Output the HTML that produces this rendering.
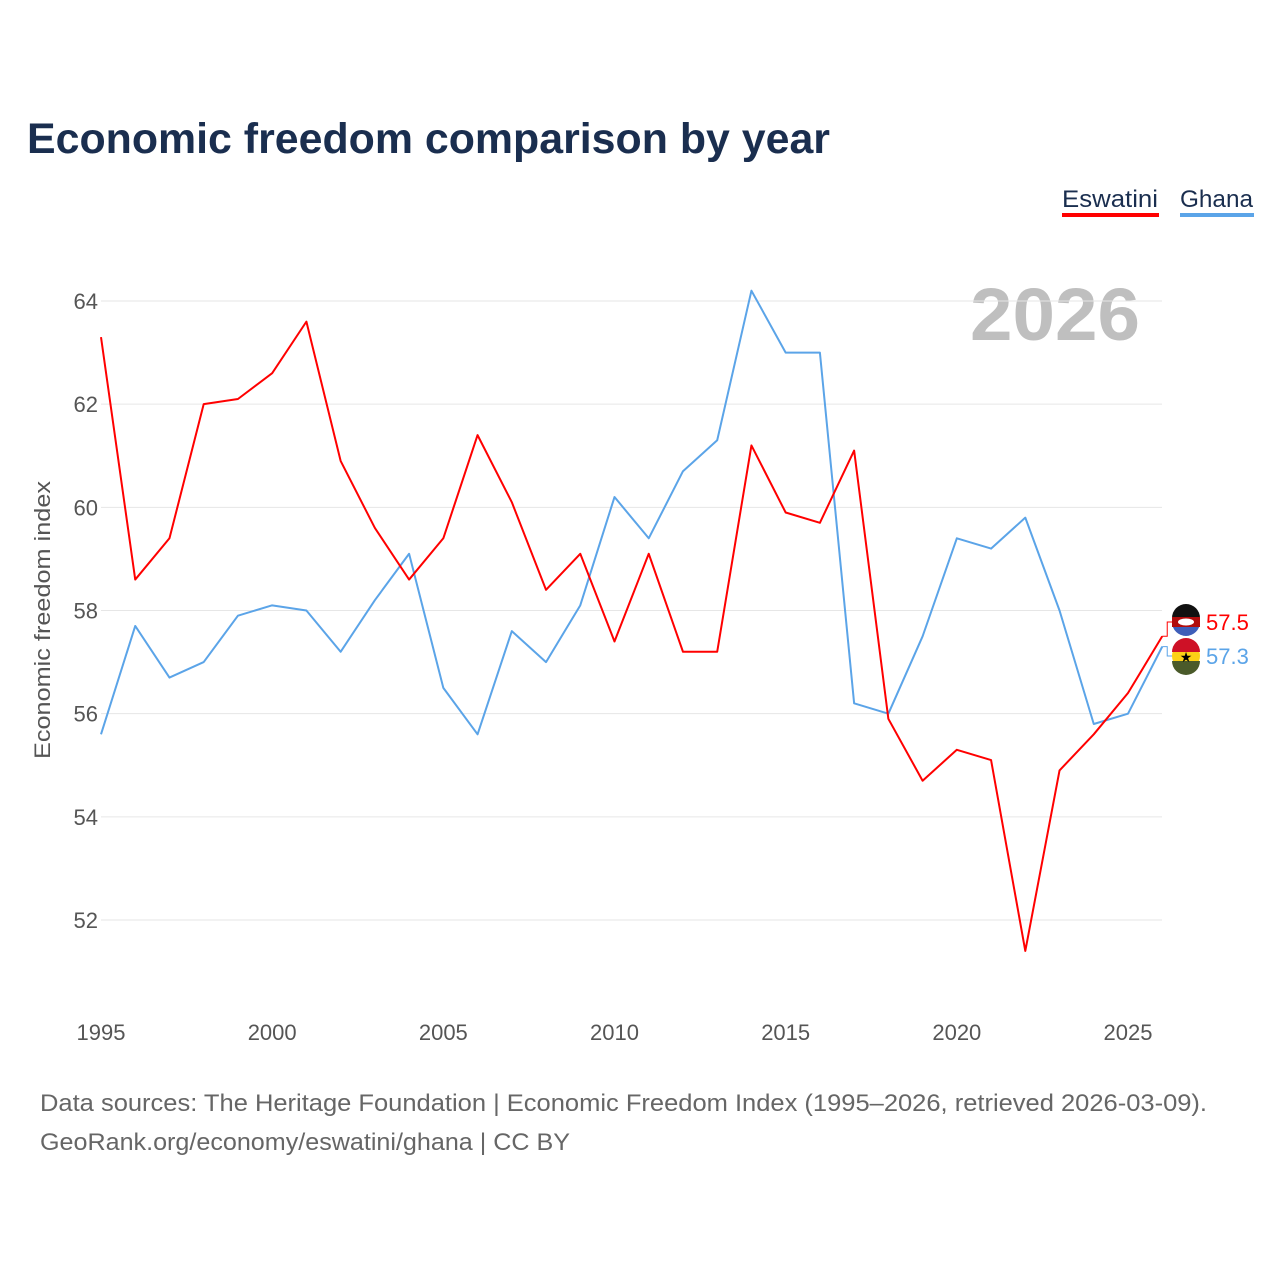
<!DOCTYPE html>
<html><head><meta charset="utf-8"><style>
body{margin:0;background:#fff;font-family:"Liberation Sans",sans-serif;}
svg text{font-family:"Liberation Sans",sans-serif;}
</style></head><body>
<svg width="1280" height="1280" viewBox="0 0 1280 1280">
<rect width="1280" height="1280" fill="#fff"/>
<text x="27" y="153" font-size="43" font-weight="bold" fill="#1a2e4f" textLength="803" lengthAdjust="spacingAndGlyphs">Economic freedom comparison by year</text>
<g>
<text x="1062" y="207" font-size="24" fill="#1a2e4f" textLength="96" lengthAdjust="spacingAndGlyphs">Eswatini</text>
<rect x="1062" y="213" width="97" height="4" fill="#ff0000"/>
<text x="1180" y="207" font-size="24" fill="#1a2e4f" textLength="73" lengthAdjust="spacingAndGlyphs">Ghana</text>
<rect x="1180" y="213" width="74" height="4" fill="#5ba4e8"/>
</g>
<text x="1140" y="340" font-size="74" font-weight="bold" fill="#bfbfbf" text-anchor="end" textLength="170" lengthAdjust="spacingAndGlyphs">2026</text>
<g id="grid"></g><g id="xt"></g>
<text transform="translate(50,620) rotate(-90)" font-size="22" fill="#555" text-anchor="middle" textLength="278" lengthAdjust="spacingAndGlyphs">Economic freedom index</text>
<g id="lines"></g>
<text x="40" y="1111" font-size="24" fill="#666" textLength="1167" lengthAdjust="spacingAndGlyphs">Data sources: The Heritage Foundation | Economic Freedom Index (1995–2026, retrieved 2026-03-09).</text>
<text x="40" y="1150" font-size="24" fill="#666" textLength="530" lengthAdjust="spacingAndGlyphs">GeoRank.org/economy/eswatini/ghana | CC BY</text>
</svg>
<script>
const years=[1995,1996,1997,1998,1999,2000,2001,2002,2003,2004,2005,2006,2007,2008,2009,2010,2011,2012,2013,2014,2015,2016,2017,2018,2019,2020,2021,2022,2023,2024,2025,2026];
const eswatini=[63.3,58.6,59.4,62.0,62.1,62.6,63.6,60.9,59.6,58.6,59.4,61.4,60.1,58.4,59.1,57.4,59.1,57.2,57.2,61.2,59.9,59.7,61.1,55.9,54.7,55.3,55.1,51.4,54.9,55.6,56.4,57.5];
const ghana=[55.6,57.7,56.7,57.0,57.9,58.1,58.0,57.2,58.2,59.1,56.5,55.6,57.6,57.0,58.1,60.2,59.4,60.7,61.3,64.2,63.0,63.0,56.2,56.0,57.5,59.4,59.2,59.8,58.0,55.8,56.0,57.3];
const yTicks=[52,54,56,58,60,62,64];
const xTicks=[1995,2000,2005,2010,2015,2020,2025];
const NS="http://www.w3.org/2000/svg";
const X=v=>101+(v-1995)*(1128-101)/30;
const Y=v=>920-(v-52)*(920-301)/12;
function mk(t,a,p){const e=document.createElementNS(NS,t);for(const k in a)e.setAttribute(k,a[k]);p.appendChild(e);return e;}
const g=document.getElementById('grid');
yTicks.forEach(t=>{
 const l=mk('line',{x1:101,x2:1162,y1:Y(t),y2:Y(t),stroke:'#e6e6e6','stroke-width':1},g);
 
 
 const tx=mk('text',{x:98,y:Y(t)+8,'font-size':22,fill:'#555','text-anchor':'end'},g);tx.textContent=t;
 
 
});
const xt=document.getElementById('xt');
xTicks.forEach(t=>{
 const tx=mk('text',{x:X(t),y:1040,'font-size':22,fill:'#555','text-anchor':'middle'},xt);tx.textContent=t;
 
 
});
const lg=document.getElementById('lines');
function series(vals,col,name){
 const p=mk('polyline',{points:vals.map((v,i)=>X(years[i])+','+Y(v)).join(' '),fill:'none',stroke:col,'stroke-width':2,'stroke-linejoin':'round'},lg);
 
 
}
series(ghana,'#5ba4e8','ghana');
series(eswatini,'#ff0000','eswatini');
const eL=eswatini[eswatini.length-1],gL=ghana[ghana.length-1];
const xe=X(2026);
function endLabel(v,ly,col,name,flag){
 mk('polyline',{points:`${xe},${Y(v)} ${xe+5},${Y(v)} ${xe+5},${ly} ${xe+12},${ly}`,fill:'none',stroke:col,'stroke-width':1},lg);
 const c=mk('g',{},lg);
 
 
 flag(c,1186,ly);
 const t=mk('text',{x:1206,y:ly+8,'font-size':22,fill:col},lg);t.textContent=v.toFixed(1);
 
 
}
endLabel(eL,622,'#ff0000','eswatini',(c,x,y)=>{
 mk('circle',{cx:x,cy:y,r:14,fill:'#3e5eb9'},c);
 mk('path',{d:`M${x-14},${y-4} A14,14 0 0 1 ${x+14},${y-4} Z`,fill:'#111'},c);
 mk('rect',{x:x-14,y:y-5,width:28,height:10,fill:'#b10c0c'},c);
 mk('ellipse',{cx:x,cy:y,rx:8,ry:3.5,fill:'#fff'},c);
});
endLabel(gL,656,'#5ba4e8','ghana',(c,x,y)=>{
 mk('circle',{cx:x,cy:y,r:14,fill:'#fcd116'},c);
 mk('path',{d:`M${x-14},${y-4} A14,14 0 0 1 ${x+14},${y-4} Z`,fill:'#ce1126'},c);
 mk('path',{d:`M${x-14},${y+5} L${x+14},${y+5} A14,14 0 0 1 ${x-14},${y+5} Z`,fill:'#4a5a2a'},c);
 const s=mk('text',{x:x,y:y+6,'font-size':14,'text-anchor':'middle',fill:'#000'},c);s.textContent='★';
});
</script>
</body></html>
